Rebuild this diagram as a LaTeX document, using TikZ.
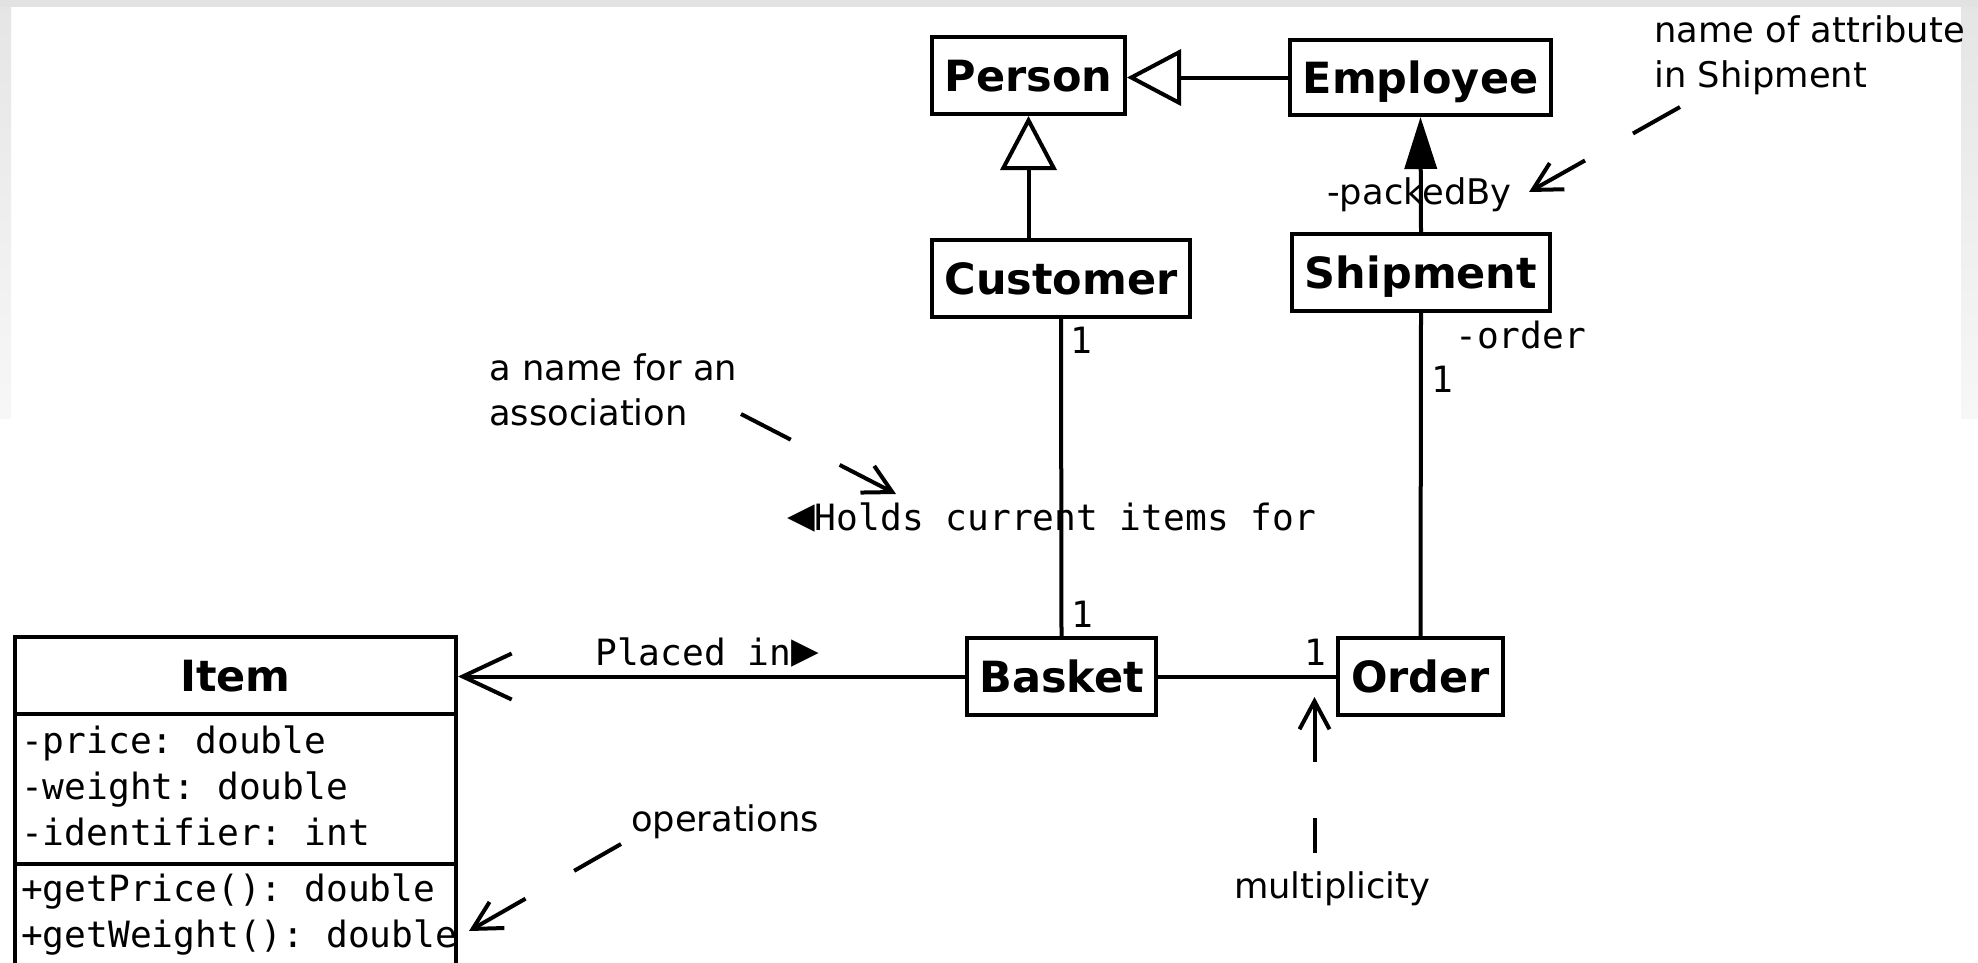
\documentclass[tikz,border=0pt]{standalone}
\usepackage{fontspec}
\setmainfont{DejaVu Sans}
\newfontfamily\umlmono{DejaVu Sans Mono}
\usetikzlibrary{arrows.meta}
\definecolor{bandgray}{RGB}{226,226,226}
\definecolor{stripgray}{RGB}{229,229,229}
\definecolor{stripfade}{RGB}{247,247,247}
\frenchspacing
\newcommand\clsfont{\bfseries\fontsize{43}{50}\selectfont}
\newcommand\notefont{\fontsize{35.3}{45}\selectfont}
\newcommand\labfont{\umlmono\fontsize{36.2}{46}\selectfont\frenchspacing}
\newcommand\dirmark[1]{{\fontsize{46}{46}\selectfont #1}}

\begin{document}
\begin{tikzpicture}[x=1pt,y=-1pt,
  cls/.style={draw, line width=4pt, fill=white, inner sep=0pt, font=\clsfont,
              text height=31pt, text depth=0pt},
  compartment/.style={draw, line width=4pt, fill=white, inner sep=0pt,
              minimum width=441pt},
  members/.style={font=\labfont, inner sep=0pt, align=left, anchor=base west},
  link/.style={line width=4pt},
  gen/.style={link, -{Triangle[open, fill=white, length=54pt, width=56pt]}},
  nav/.style={link, -{Triangle[length=52pt, width=32pt]}},
  navopen/.style={link, -{Straight Barb[length=49pt, width=46pt]}},
  pointer/.style={line width=4pt, -{Straight Barb[length=28pt, width=30pt]}},
  note/.style={font=\notefont, inner sep=0pt, align=left},
  lab/.style={font=\labfont, inner sep=0pt},
  role/.style={font=\notefont, inner sep=0pt},
]
\useasboundingbox (0,0) rectangle (1978,962);
\clip (0,0) rectangle (1978,962);

% page background with the grey frame at the top
\fill[white] (0,0) rectangle (1978,962);
\shade[top color=stripgray, bottom color=stripfade] (0,0) rectangle (11,418);
\shade[top color=stripgray, bottom color=stripfade] (1961,0) rectangle (1978,418);
\fill[bandgray] (0,0) rectangle (1978,7);

% classes
\node[cls, minimum width=193pt, minimum height=77pt] (person)   at (1028.5,75.5) {Person};
\node[cls, minimum width=261pt, minimum height=75pt] (employee) at (1420.5,77.5) {Employee};
\node[cls, minimum width=258pt, minimum height=77pt] (customer) at (1061,278.5)  {Customer};
\node[cls, minimum width=258pt, minimum height=77pt] (shipment) at (1421,272.5)  {Shipment};
\node[cls, minimum width=189pt, minimum height=77pt] (basket)   at (1061.5,676.5) {Basket};
\node[cls, minimum width=165pt, minimum height=77pt] (order)    at (1420.5,676.5) {Order};

% the Item class with its attributes and operations
\node[cls, minimum width=441pt, minimum height=77pt] (item) at (235.5,675.5) {Item};
\node[compartment, minimum height=150pt] (itemattr) at (235.5,789) {};
\node[compartment, minimum height=101pt] (itemops) at (235.5,914.5) {};
\node[members] (attrlist) at (21,845) {-price: double\\-weight: double\\-identifier: int};
\node[members] (oplist) at (21,947) {+getPrice(): double\\+getWeight(): double};

% generalisations
\draw[gen] (employee.west) -- (employee.west -| person.east);
\draw[gen] (person.south |- customer.north) -- (person.south);

% associations
\draw[nav] (shipment.north) -- (employee.south);
\draw[link] (shipment.south) -- (order.north);
\draw[link] (customer.south) -- (basket.north);
\draw[navopen] (basket.west) -- (basket.west -| item.east);
\draw[link] (basket.east) -- (order.west);

% association names, roles and multiplicities
\node[role, anchor=base] (packedby) at (1419.5,204) {-packedBy};
\node[lab, anchor=base west] (rolorder) at (1455,348) {-order};
\node[lab, anchor=base] (mshipment) at (1442,392) {1};
\node[lab, anchor=base] (mcustomer) at (1081,353) {1};
\node[lab, anchor=base] (mbasket) at (1082,627) {1};
\node[lab, anchor=base] (morder) at (1315,665) {1};
\node[lab, anchor=base west] (holds) at (787,530) {\dirmark{◀}Holds current items for};
\node[lab, anchor=base west] (placed) at (595,665) {Placed in\dirmark{▶}};

% explanatory notes (anchored on the baseline of their last line)
\node[note, anchor=base west] (nassoc) at (489,425) {a name for an\\association};
\node[note, anchor=base west] (nattr) at (1654,87) {name of attribute\\in Shipment};
\node[note, anchor=base west] (nops) at (631,831) {operations};
\node[note, anchor=base west] (nmult) at (1234,898) {multiplicity};

\coordinate (assocfrom) at (741,414);
\coordinate (assocto) at (896,494);
\coordinate (attrfrom) at (1680,107);
\coordinate (attrto) at (1529,192);
\coordinate (opsfrom) at (621,844);
\coordinate (opsto) at (469,931);
\coordinate (multfrom) at (1314.5,853);
\coordinate (multto) at (1314.5,697);

\draw[pointer, dash pattern=on 56pt off 55pt on 400pt] (assocfrom) -- (assocto);
\draw[pointer, dash pattern=on 54pt off 55pt on 400pt] (attrfrom) -- (attrto);
\draw[pointer, dash pattern=on 54pt off 56pt on 400pt] (opsfrom) -- (opsto);
\draw[pointer, dash pattern=on 35pt off 56pt on 400pt] (multfrom) -- (multto);
\end{tikzpicture}
\end{document}
